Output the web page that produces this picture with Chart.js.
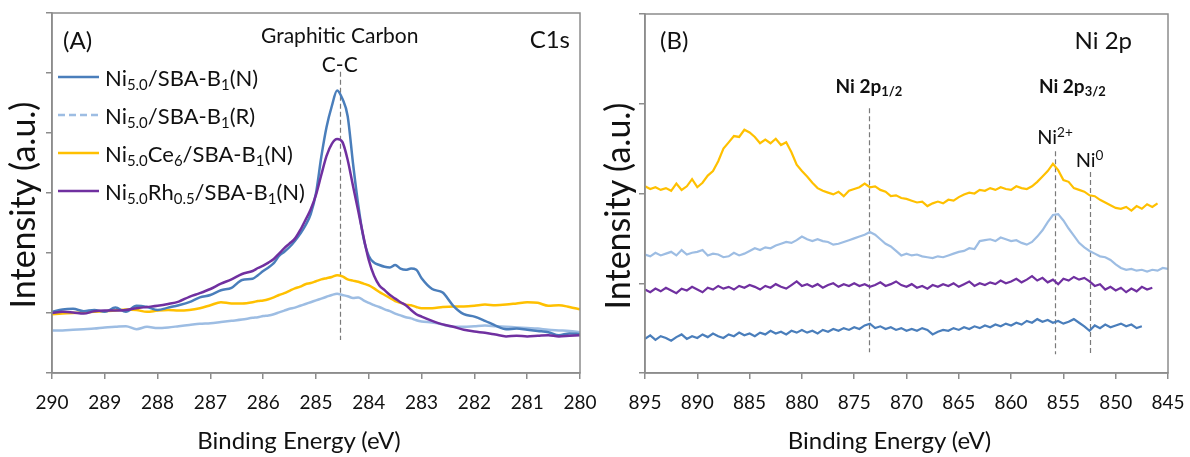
<!DOCTYPE html>
<html>
<head>
<meta charset="utf-8">
<script src="https://cdn.jsdelivr.net/npm/chart.js@4.4.0/dist/chart.umd.min.js"></script>
<style>
  html, body { margin: 0; padding: 0; background: #fff; }
  #wrap { position: relative; width: 1190px; height: 457px; overflow: hidden; font-family: Lato, sans-serif; color: #111; }
  canvas { position: absolute; top: 0; }
  .ov { position: absolute; top: 0; width: 595px; height: 457px; pointer-events: none; z-index: 2; }
  .lbl { position: absolute; white-space: nowrap; line-height: 1; }
  .big { font-size: 24px; }
  .mid { font-size: 21px; }
  .mid2 { font-size: 20px; }
  .bold { font-size: 19px; font-weight: bold; }
  .xt { font-size: 24px; }
  .yt { font-size: 34px; }
  sub { font-size: 0.68em; vertical-align: -0.28em; line-height: 0; }
  sup { font-size: 0.68em; vertical-align: 0.55em; line-height: 0; }
  #legA { position: absolute; font-size: 22px; }
  #legA .row { display: flex; align-items: center; height: 38px; }
  #legA svg { margin-right: 6px; flex: none; }
</style>
</head>
<body>
<div id="wrap">
  <canvas id="cA" width="610" height="457" style="left:0"></canvas>
  <canvas id="cB" width="595" height="457" style="left:595px"></canvas>
  <div id="ovA" class="ov" style="left:0">
    <div id="xtA" class="lbl xt"></div>
    <div id="ytA" class="lbl yt"></div>
    <div id="tA" class="lbl big">(A)</div>
    <div id="tGC" class="lbl mid">Graphitic Carbon</div>
    <div id="tCC" class="lbl mid">C-C</div>
    <div id="tC1s" class="lbl big">C1s</div>
    <div id="legA"></div>
  </div>
  <div id="ovB" class="ov" style="left:595px">
    <div id="xtB" class="lbl xt"></div>
    <div id="ytB" class="lbl yt"></div>
    <div id="tB" class="lbl big">(B)</div>
    <div id="tNi2p" class="lbl big">Ni 2p</div>
    <div id="t12" class="lbl bold">Ni 2p<sub>1/2</sub></div>
    <div id="t32" class="lbl bold">Ni 2p<sub>3/2</sub></div>
    <div id="tNi2" class="lbl mid2">Ni<sup>2+</sup></div>
    <div id="tNi0" class="lbl mid2">Ni<sup>0</sup></div>
  </div>
</div>
<script>
// ---------------- DATA ----------------
const seriesNames = [
  'Ni<sub>5.0</sub>/SBA-B<sub>1</sub>(N)',
  'Ni<sub>5.0</sub>/SBA-B<sub>1</sub>(R)',
  'Ni<sub>5.0</sub>Ce<sub>6</sub>/SBA-B<sub>1</sub>(N)',
  'Ni<sub>5.0</sub>Rh<sub>0.5</sub>/SBA-B<sub>1</sub>(N)'
];
const xTitle = 'Binding Energy (eV)';
const yTitle = 'Intensity (a.u.)';

// Panel A: C1s
const energyA = [290,289.8,289.6,289.4,289.2,289,288.8,288.6,288.4,288.2,288,287.8,287.6,287.4,287.2,287,286.8,286.6,286.4,286.2,
  286.1,286,285.9,285.8,285.7,285.6,285.5,285.4,285.3,285.2,285.1,285,284.9,284.8,284.7,284.6,284.5,284.4,284.3,284.2,284.1,284,
  283.9,283.8,283.7,283.6,283.5,283.4,283.3,283.2,283.1,283,
  282.8,282.6,282.4,282.2,282,281.8,281.6,281.4,281.2,281,280.8,280.6,280.4,280.2,280];
const ni50N_A = [1.02,1.06,1.07,1.03,1.05,1.02,1.09,1.02,1.12,1.10,1.05,1.09,1.13,1.18,1.26,1.30,1.38,1.42,1.55,1.57,
  1.63,1.70,1.76,1.83,1.95,2.02,2.10,2.20,2.32,2.46,2.65,3.00,3.60,4.10,4.45,4.71,4.57,4.28,3.50,2.80,2.25,1.95,
  1.84,1.80,1.77,1.76,1.80,1.74,1.72,1.74,1.72,1.58,
  1.40,1.34,1.12,0.98,0.94,0.87,0.79,0.73,0.74,0.72,0.70,0.68,0.63,0.66,0.65];
const ni50R_A = [0.71,0.71,0.72,0.73,0.74,0.76,0.77,0.78,0.73,0.77,0.75,0.76,0.78,0.80,0.82,0.83,0.85,0.87,0.89,0.92,
  0.93,0.95,0.96,0.98,1.01,1.04,1.07,1.09,1.12,1.15,1.18,1.21,1.24,1.27,1.30,1.32,1.30,1.28,1.25,1.26,1.21,1.17,
  1.13,1.10,1.06,1.03,0.99,0.96,0.93,0.91,0.88,0.86,
  0.84,0.81,0.77,0.77,0.78,0.79,0.78,0.77,0.76,0.75,0.74,0.72,0.71,0.70,0.68];
const ce6_A = [0.98,0.99,1.00,1.01,1.02,1.03,1.04,1.06,1.05,1.02,1.04,1.05,1.04,1.05,1.08,1.13,1.18,1.16,1.16,1.18,
  1.20,1.21,1.23,1.26,1.30,1.33,1.37,1.41,1.44,1.48,1.50,1.53,1.56,1.58,1.60,1.63,1.61,1.56,1.54,1.52,1.49,1.46,
  1.41,1.35,1.30,1.25,1.20,1.17,1.14,1.13,1.10,1.08,
  1.08,1.10,1.11,1.11,1.12,1.14,1.13,1.14,1.16,1.18,1.17,1.12,1.13,1.10,1.06];
const rh05_A = [1.00,1.02,1.01,0.99,1.03,1.04,1.04,1.05,1.08,1.10,1.12,1.15,1.19,1.27,1.33,1.40,1.49,1.56,1.65,1.70,
  1.75,1.79,1.84,1.90,1.99,2.08,2.16,2.24,2.38,2.55,2.73,2.97,3.30,3.62,3.82,3.90,3.85,3.55,3.12,2.70,2.27,1.88,
  1.62,1.46,1.38,1.30,1.24,1.18,1.13,1.05,0.98,0.94,
  0.87,0.81,0.77,0.72,0.69,0.67,0.64,0.61,0.62,0.61,0.62,0.63,0.61,0.62,0.63];
const ccEnergy = [284.55];

// Panel B: Ni 2p
const energyB = [895,894.5,894,893.5,893,892.5,892,891.5,891,890.5,890,889.5,889,888.5,888,887.5,887,886.5,886,885.5,
  885,884.5,884,883.5,883,882.5,882,881.5,881,880.5,880,879.5,879,878.5,878,877.5,877,876.5,876,875.5,
  875,874.5,874,873.5,873,872.5,872,871.5,871,870.5,870,869.5,869,868.5,868,867.5,867,866.5,866,865.5,
  865,864.5,864,863.5,863,862.5,862,861.5,861,860.5,860,859.5,859,858.5,858,857.5,857,856.5,856,855.5,
  855,854.5,854,853.5,853,852.5,852,851.5,851,850.5,850,849.5,849,848.5,848,847.5,847,846.5,846,845.5,845];
const ce6_B = [2.08,2.05,2.07,2.04,2.06,2.03,2.11,2.04,2.08,2.16,
  2.07,2.12,2.20,2.25,2.36,2.50,2.57,2.64,2.63,2.71,
  2.68,2.63,2.56,2.60,2.56,2.61,2.54,2.57,2.46,2.32,
  2.25,2.19,2.12,2.06,2.03,2.01,1.99,2.02,1.97,2.03,
  2.05,2.07,2.11,2.07,2.08,2.04,2.02,1.97,1.98,1.95,
  1.94,1.92,1.90,1.91,1.86,1.89,1.91,1.89,1.93,1.92,
  1.96,1.99,2.01,2.00,2.04,2.03,2.06,2.04,2.07,2.05,
  2.04,2.08,2.06,2.05,2.08,2.13,2.19,2.25,2.33,2.26,
  2.15,2.13,2.06,2.04,2.02,1.98,1.97,1.93,1.90,1.87,
  1.84,1.83,1.85,1.81,1.86,1.83,1.88,1.85,1.89,null,null];
const ni50R_B = [1.32,1.30,1.34,1.31,1.33,1.35,1.31,1.37,1.32,1.34,
  1.35,1.37,1.31,1.33,1.32,1.29,1.30,1.34,1.31,1.33,
  1.36,1.39,1.37,1.40,1.39,1.42,1.44,1.46,1.45,1.48,
  1.52,1.49,1.47,1.49,1.47,1.46,1.43,1.44,1.46,1.48,
  1.50,1.52,1.54,1.57,1.54,1.49,1.44,1.41,1.36,1.31,
  1.33,1.31,1.32,1.30,1.29,1.28,1.30,1.29,1.31,1.33,
  1.35,1.36,1.39,1.38,1.47,1.48,1.49,1.47,1.51,1.49,
  1.47,1.48,1.45,1.43,1.46,1.52,1.59,1.68,1.76,1.77,
  1.70,1.61,1.53,1.45,1.40,1.36,1.33,1.30,1.29,1.26,
  1.21,1.17,1.15,1.16,1.14,1.15,1.13,1.15,1.14,1.17,1.16];
const rh05_B = [0.93,0.90,0.94,0.91,0.95,0.92,0.89,0.94,0.92,0.96,
  0.93,0.90,0.95,0.93,0.97,0.94,0.96,0.93,0.97,0.95,
  0.98,0.96,0.93,0.97,0.95,0.99,0.96,0.94,0.98,1.02,
  0.97,0.99,0.96,0.99,0.95,0.98,1.00,0.96,0.99,0.97,
  1.00,0.97,0.99,0.96,0.98,1.01,0.97,0.99,1.02,0.98,
  0.96,0.99,0.95,0.97,0.94,0.98,0.96,0.99,0.97,1.00,
  0.96,0.99,1.02,0.97,1.00,0.98,1.01,0.99,1.03,1.00,
  1.02,1.05,1.01,1.04,1.08,1.03,1.06,1.01,1.04,0.99,
  1.05,1.03,1.07,1.04,1.06,1.02,0.97,0.99,0.93,0.96,
  0.92,0.95,0.90,0.94,0.91,0.96,0.93,0.95,null,null,null];
const ni50N_B = [0.38,0.42,0.37,0.41,0.39,0.36,0.40,0.43,0.38,0.41,
  0.39,0.43,0.40,0.44,0.41,0.39,0.43,0.41,0.45,0.42,
  0.44,0.41,0.45,0.43,0.47,0.44,0.46,0.43,0.47,0.45,
  0.48,0.45,0.47,0.44,0.48,0.46,0.49,0.47,0.50,0.48,
  0.51,0.49,0.53,0.55,0.50,0.52,0.49,0.51,0.48,0.50,
  0.47,0.49,0.47,0.50,0.48,0.43,0.46,0.48,0.47,0.50,
  0.48,0.51,0.49,0.52,0.50,0.53,0.51,0.54,0.52,0.55,
  0.53,0.56,0.54,0.58,0.56,0.60,0.57,0.59,0.56,0.58,
  0.55,0.57,0.60,0.56,0.52,0.47,0.53,0.50,0.54,0.51,
  0.53,0.55,0.52,0.54,0.50,0.52,null,null,null,null,null];
const ni2pEnergies = [873.6, 855.8, 852.5];   // 2p1/2, Ni2+, Ni0

// ---------------- STYLE ----------------
const COLORS = ['#4a7ebb', '#9dbde3', '#ffc000', '#7030a0'];
const AXIS = '#8c8c8c';
const TXT = '#111';
const FONT = 'Lato';

function pts(xs, ys) {
  const out = [];
  xs.forEach((x, i) => { if (ys[i] !== null && ys[i] !== undefined) out.push({ x: x, y: ys[i] }); });
  return out;
}
function plain(html) { return html.replace(/<[^>]+>/g, ''); }

function put(id, left, top, anchor, rot) {
  const el = document.getElementById(id);
  el.style.left = left + 'px';
  el.style.top = top + 'px';
  const tx = anchor === 'l' ? '0' : anchor === 'r' ? '-100%' : '-50%';
  el.style.transform = 'translate(' + tx + ',-50%)' + (rot ? ' rotate(' + rot + 'deg)' : '');
}

document.getElementById('xtA').textContent = xTitle;
document.getElementById('xtB').textContent = xTitle;
document.getElementById('ytA').textContent = yTitle;
document.getElementById('ytB').textContent = yTitle;

function placeTitles(chart, xId, yId) {
  const a = chart.chartArea;
  put(xId, (a.left + a.right) / 2 - 17, 440, 'c');
  put(yId, 22, (a.top + a.bottom) / 2 + 12, 'c', -90);
}

const marksPlugin = {
  id: 'marks',
  beforeDatasetsDraw(chart, args, opts) {
    const { ctx, scales: { x, y } } = chart;
    ctx.save();
    ctx.strokeStyle = '#7a7a7a';
    ctx.lineWidth = 1.2;
    ctx.setLineDash([5, 3]);
    (opts.lines || []).forEach(m => {
      const px = Math.round(x.getPixelForValue(m.e)) + 0.5;
      ctx.beginPath();
      ctx.moveTo(px, y.getPixelForValue(m.top));
      ctx.lineTo(px, y.getPixelForValue(m.bottom));
      ctx.stroke();
    });
    ctx.restore();
  },
  afterDraw(chart, args, opts) {
    const { ctx, chartArea: a } = chart;
    ctx.save();
    ctx.strokeStyle = AXIS;
    ctx.lineWidth = 1.5;
    ctx.strokeRect(a.left, a.top, a.right - a.left, a.bottom - a.top);
    ctx.restore();
    if (opts.place) opts.place(chart);
  }
};

function axes(xmin, xmax, step, ymax, yWidth) {
  return {
    x: {
      type: 'linear', min: xmin, max: xmax, reverse: true,
      ticks: { stepSize: step, autoSkip: false, maxRotation: 0, color: TXT, padding: 12,
               font: { family: FONT, size: 19, lineHeight: 1.2 } },
      grid: { drawOnChartArea: false, drawTicks: true, tickLength: 6, color: AXIS, lineWidth: 1.5 },
      border: { display: true, color: AXIS, width: 1.5 },
      title: { display: false },
      afterFit(s) { s.height = 84; s.paddingLeft = 0; s.paddingRight = 0; }
    },
    y: {
      min: 0, max: ymax,
      ticks: { display: false, stepSize: 1 },
      grid: { drawOnChartArea: false, drawTicks: true, tickLength: 6, color: AXIS, lineWidth: 1.5 },
      border: { display: true, color: AXIS, width: 1.5 },
      title: { display: false },
      afterFit(s) { s.width = yWidth; s.paddingTop = 0; s.paddingBottom = 0; }
    }
  };
}

function ds(label, data, color, extra) {
  return Object.assign({
    label: plain(label), data: data, borderColor: color, backgroundColor: color,
    borderWidth: 2.5, pointRadius: 0, fill: false, spanGaps: false
  }, extra || {});
}

// ---------------- LEGEND (HTML, for subscripts) ----------------
(function buildLegend() {
  const leg = document.getElementById('legA');
  seriesNames.forEach((name, i) => {
    const row = document.createElement('div');
    row.className = 'row';
    const dash = i === 1 ? ' stroke-dasharray="7,4"' : '';
    row.innerHTML = '<svg width="41" height="6"><line x1="0" y1="3" x2="41" y2="3" stroke="' + COLORS[i] +
      '" stroke-width="2.5"' + dash + '/></svg><span>' + name + '</span>';
    leg.appendChild(row);
  });
})();

Chart.defaults.font.family = FONT;

// ---------------- PANEL A ----------------
new Chart(document.getElementById('cA'), {
  type: 'line',
  data: {
    datasets: [
      ds(seriesNames[3], pts(energyA, rh05_A), COLORS[3], { cubicInterpolationMode: 'monotone' }),
      ds(seriesNames[0], pts(energyA, ni50N_A), COLORS[0], { cubicInterpolationMode: 'monotone' }),
      ds(seriesNames[2], pts(energyA, ce6_A), COLORS[2], { cubicInterpolationMode: 'monotone' }),
      ds(seriesNames[1], pts(energyA, ni50R_A), COLORS[1], { cubicInterpolationMode: 'monotone' })
    ]
  },
  options: {
    responsive: false, animation: false, devicePixelRatio: 1,
    layout: { padding: { top: 13, right: 30, left: 0, bottom: 0 } },
    scales: axes(280, 290, 1, 6, 52),
    plugins: {
      legend: { display: false }, tooltip: { enabled: false },
      marks: {
        lines: [{ e: ccEnergy[0], top: 5.02, bottom: 0.55 }],
        place(chart) {
          const a = chart.chartArea, x = chart.scales.x;
          const cx = x.getPixelForValue(ccEnergy[0]);
          placeTitles(chart, 'xtA', 'ytA');
          put('tA', a.left + 11, a.top + 27, 'l');
          put('tGC', cx, a.top + 21, 'c');
          put('tCC', cx, a.top + 50, 'c');
          put('tC1s', a.right - 10, a.top + 26, 'r');
          const leg = document.getElementById('legA');
          leg.style.left = (a.left + 6) + 'px';
          leg.style.top = (a.top + 45) + 'px';
        }
      }
    }
  },
  plugins: [marksPlugin]
});

// ---------------- PANEL B ----------------
new Chart(document.getElementById('cB'), {
  type: 'line',
  data: {
    datasets: [
      ds(seriesNames[2], pts(energyB, ce6_B), COLORS[2], { borderWidth: 2.2 }),
      ds(seriesNames[1], pts(energyB, ni50R_B), COLORS[1], { borderWidth: 2.2 }),
      ds(seriesNames[3], pts(energyB, rh05_B), COLORS[3], { borderWidth: 2.2 }),
      ds(seriesNames[0], pts(energyB, ni50N_B), COLORS[0], { borderWidth: 2.2 })
    ]
  },
  options: {
    responsive: false, animation: false, devicePixelRatio: 1,
    layout: { padding: { top: 14, right: 22, left: 0, bottom: 0 } },
    scales: axes(845, 895, 5, 4, 50),
    plugins: {
      legend: { display: false }, tooltip: { enabled: false },
      marks: {
        lines: [
          { e: ni2pEnergies[0], top: 2.95, bottom: 0.23 },
          { e: ni2pEnergies[1], top: 2.47, bottom: 0.21 },
          { e: ni2pEnergies[2], top: 2.24, bottom: 0.20 }
        ],
        place(chart) {
          const a = chart.chartArea, x = chart.scales.x, y = chart.scales.y;
          const p12 = x.getPixelForValue(ni2pEnergies[0]);
          const p2 = x.getPixelForValue(ni2pEnergies[1]);
          const p0 = x.getPixelForValue(ni2pEnergies[2]);
          placeTitles(chart, 'xtB', 'ytB');
          put('tB', a.left + 15, a.top + 26, 'l');
          put('tNi2p', a.right - 36, a.top + 26, 'r');
          put('t12', p12, y.getPixelForValue(2.95) - 23, 'c');
          put('t32', (p2 + p0) / 2, y.getPixelForValue(2.95) - 23, 'c');
          put('tNi2', p2, y.getPixelForValue(2.47) - 15, 'c');
          put('tNi0', p0, y.getPixelForValue(2.24) - 13, 'c');
        }
      }
    }
  },
  plugins: [marksPlugin]
});
</script>
</body>
</html>
